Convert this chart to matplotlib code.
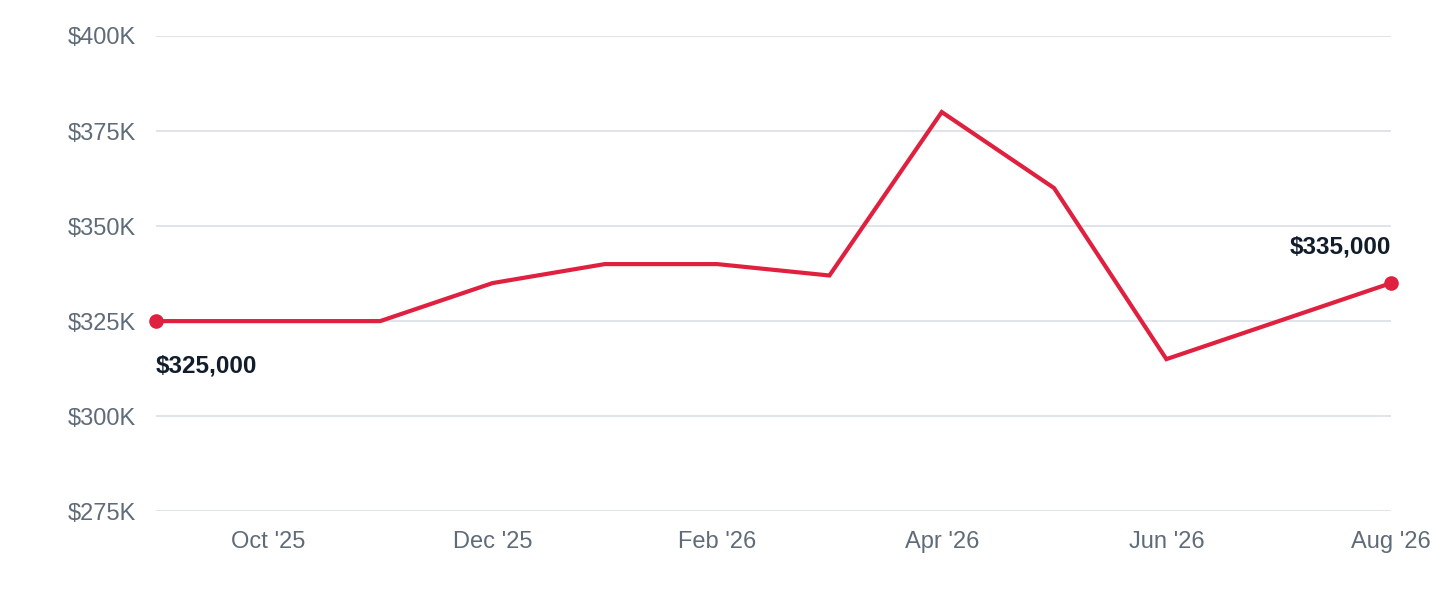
import matplotlib
matplotlib.use("Agg")
import matplotlib.pyplot as plt

months = ["Sep '25","Oct '25","Nov '25","Dec '25","Jan '26","Feb '26","Mar '26","Apr '26","May '26","Jun '26","Jul '26","Aug '26"]
values = [325000,325000,325000,335000,340000,340000,337000,380000,360000,315000,325000,335000]
yticks = [275000,300000,325000,350000,375000,400000]
ytick_labels = ["$275K","$300K","$325K","$350K","$375K","$400K"]
xtick_idx = [1,3,5,7,9,11]

plt.rcParams['font.family'] = ['Liberation Sans', 'DejaVu Sans']
fig = plt.figure(figsize=(14.4, 6), dpi=100)
ax = fig.add_axes([0.108, 0.148, 0.858, 0.792])
x = list(range(len(values)))
red = "#e0203f"
ax.plot(x, values, color=red, lw=3, solid_joinstyle='miter', zorder=3, clip_on=False)
ax.scatter([x[0], x[-1]], [values[0], values[-1]], color=red, s=90, zorder=4, clip_on=False)
ax.annotate("$325,000", (x[0], values[0]), xytext=(0, -32), textcoords="offset points",
            ha="left", va="center", fontsize=17.5, fontweight="bold", color="#111d2b")
ax.annotate("$335,000", (x[-1], values[-1]), xytext=(0, 26), textcoords="offset points",
            ha="right", va="center", fontsize=17.5, fontweight="bold", color="#111d2b")
ax.set_xlim(0, len(values) - 1)
ax.set_ylim(275000, 400000)
ax.set_yticks(yticks)
ax.set_yticklabels(ytick_labels)
ax.set_xticks(xtick_idx)
ax.set_xticklabels([months[i] for i in xtick_idx])
ax.tick_params(length=0, labelsize=17, colors="#5f6b78")
ax.tick_params(axis='y', pad=14)
ax.tick_params(axis='x', pad=14)
ax.grid(axis='y', color="#e0e3e9", lw=1.4)
ax.set_axisbelow(True)
for s in ax.spines.values():
    s.set_visible(False)
fig.savefig("out.png")
